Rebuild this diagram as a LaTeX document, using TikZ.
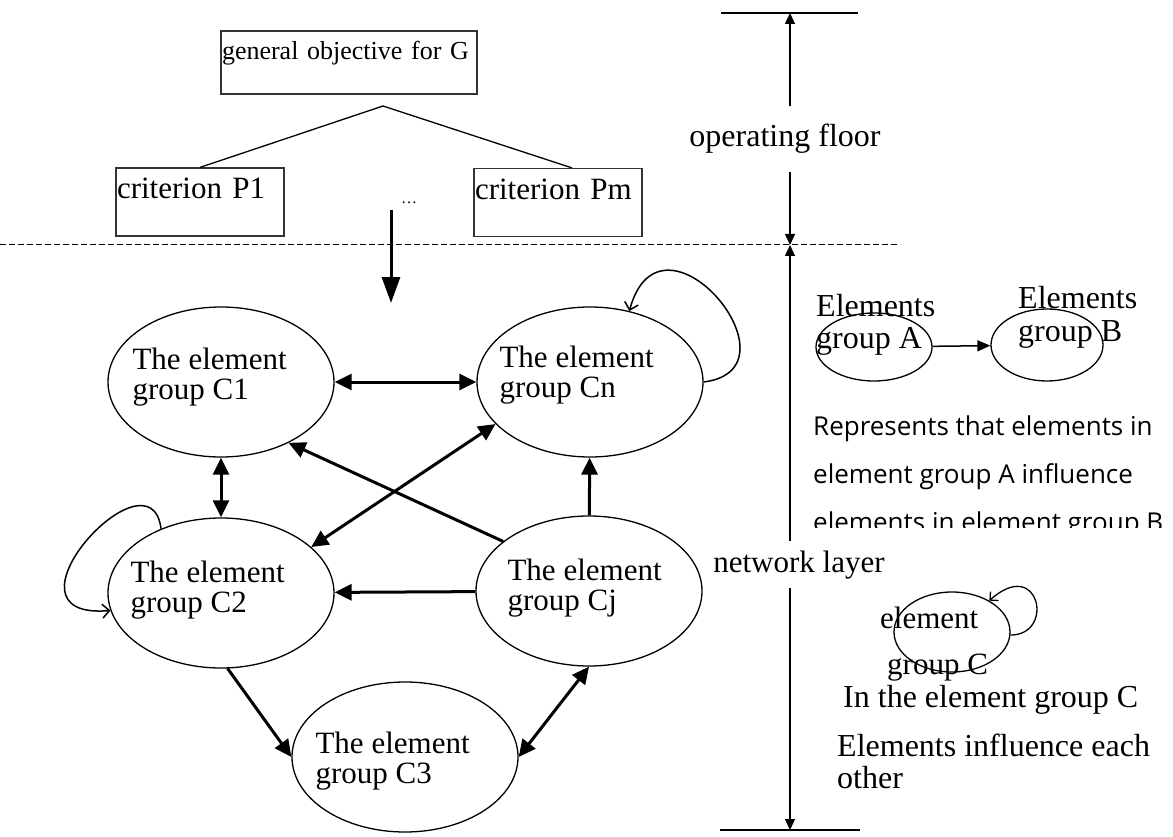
\documentclass[tikz,border=0pt]{standalone}
\usepackage{fontspec}
\setmainfont{Liberation Serif}
\newfontfamily\notesans{Open Sans}
\usetikzlibrary{shapes.geometric, arrows.meta, positioning, calc}
\tikzset{
    box/.style={rectangle, draw=black!80, line width=1.2pt, align=left, inner xsep=1pt, inner ysep=0pt},
    group/.style={ellipse, draw=black, line width=1.3pt, minimum width=226pt, minimum height=150pt, inner sep=0pt},
    grouptext/.style={anchor=north west, align=left, inner sep=0pt, font=\fontsize{31}{30}\selectfont},
    arrow/.style={line width=3pt, ->, >={Triangle[length=17pt,width=16pt]}},
    biarrow/.style={arrow, <->},
    selfloop/.style={line width=1.5pt, -{Straight Barb[length=7pt,width=14pt]}},
    axis/.style={line width=1.3pt, -{Triangle[length=11pt,width=10pt]}},
    layer/.style={fill=white, inner xsep=4pt},
    legend/.style={ellipse, draw=black, line width=1.3pt, inner sep=0pt},
    legendtext/.style={anchor=north west, align=left, inner sep=0pt, font=\fontsize{32}{32}\selectfont}
}
\begin{document}
\begin{tikzpicture}[x=1pt, y=-1pt, font=\fontsize{32}{32}\selectfont]
    \useasboundingbox (0,0) rectangle (1173,837);

    % Control layer: objective and criteria
    \node (goal) [box, text width=254pt, text height=29pt, text depth=34pt, font=\fontsize{26}{26}\selectfont] at (349,62.5) {general objective for G};
    \node (p1) [box, text width=166pt, text height=31pt, text depth=37pt, font=\fontsize{31}{31}\selectfont] at (200,202) {criterion P1};
    \node (pm) [box, text width=166pt, text height=31pt, text depth=37pt, font=\fontsize{31}{31}\selectfont] at (558,202.5) {criterion Pm};
    \coordinate (apex) at (383,106);
    \draw [line width=1.3pt] (apex) -- (p1.north);
    \draw [line width=1.3pt] (apex) -- ([xshift=14pt]pm.north);
    \node (dots) [font=\fontsize{16}{16}\selectfont, inner sep=0pt] at (409,203) {\ldots};
    \coordinate (crit) at (391,210);
    \coordinate (net) at (391,303);
    \draw [arrow, >={Triangle[length=26pt,width=18pt]}] (crit) -- (net);

    \draw [line width=1pt, dash pattern=on 6pt off 3pt] (0,245) -- (900,245);

    % Network layer: element groups
    \node (c1) [group] at (221,382) {};
    \node (cn) [group] at (590,382) {};
    \node (c2) [group] at (221,593) {};
    \node (cj) [group] at (589,591) {};
    \node (c3) [group] at (405,757) {};
    \node [grouptext] at ($(c1.west)+(25,-34)$) {The element\\group C1};
    \node [grouptext] at ($(cn.west)+(23,-36)$) {The element\\group Cn};
    \node [grouptext] at ($(c2.west)+(23,-32)$) {The element\\group C2};
    \node [grouptext] at ($(cj.west)+(32,-32)$) {The element\\group Cj};
    \node [grouptext] at ($(c3.west)+(24,-25)$) {The element\\group C3};

    \draw [biarrow] (c1) -- (cn);
    \draw [biarrow] (c1) -- (c2);
    \draw [arrow] (cj.150) -- (c1.-42);
    \draw [biarrow] (c2.27) -- (cn.204);
    \draw [arrow] (cj) -- (c2);
    \draw [arrow] (cj) -- (cn);
    \draw [arrow] (c2.-85) -- (c3.west);
    \draw [biarrow] (c3.east) -- (cj.south);
    \draw [selfloop] (cn.east) .. controls +(103,-13) and +(32,-117) .. (cn.61.5);
    \draw [selfloop] (c2.133.6) .. controls +(-11,-85) and +(-122,10) .. (c2.189);

    % Layer axis
    \coordinate (top) at (790,13);
    \coordinate (mid) at (790,245);
    \coordinate (bot) at (790,830);
    \draw [line width=1.5pt] (721,13) -- (858,13);
    \draw [line width=1.5pt] (720,830) -- (860,830);
    \node (floor) [layer, anchor=base, inner ysep=18pt] at (785,147) {operating floor};
    \node (network) [layer, anchor=base, inner ysep=9pt, font=\fontsize{31}{31}\selectfont] at (799,572) {network layer};
    \draw [axis] (floor.north -| top) -- (top);
    \draw [axis] (floor.south -| mid) -- (mid);
    \draw [axis] (network.north -| mid) -- (mid);
    \draw [axis] (network.south -| bot) -- (bot);

    % Legend
    \node (lega) [legend, minimum width=116pt, minimum height=68pt] at (874,347) {};
    \node (legb) [legend, minimum width=112pt, minimum height=72pt] at (1047,345) {};
    \draw [line width=1.5pt, -{Triangle[length=13pt,width=11pt]}] (lega) -- (legb);
    \node [legendtext] at (816,294) {Elements\\group A};
    \node [legendtext, font=\fontsize{32}{33}\selectfont] at (1018,286) {Elements\\group B};
    \begin{scope}
        \clip (800,390) rectangle (1173,527);
        \node [anchor=north west, align=left, inner sep=0pt, font=\notesans\fontsize{26}{48}\selectfont] at (813,416)
            {Represents that elements in\\element group A influence\\elements in element group B};
    \end{scope}

    \node (legc) [legend, minimum width=116pt, minimum height=80pt] at (952,632) {};
    \draw [selfloop, line width=1.3pt, -{Straight Barb[length=6pt,width=12pt]}] (legc.-3) .. controls +(45,0) and +(50,-45) .. (legc.40);
    \node [legendtext, font=\fontsize{31}{46}\selectfont] at (880,607) {element\\\hspace*{7pt}group C};
    \node [anchor=base west, inner sep=0pt] at (843,707) {In the element group C};
    \node [legendtext] at (837,734) {Elements influence each\\other};
\end{tikzpicture}
\end{document}
